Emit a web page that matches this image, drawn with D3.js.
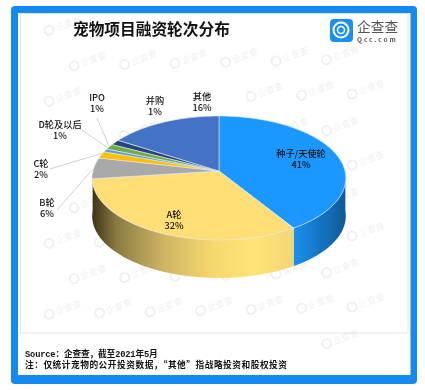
<!DOCTYPE html>
<html>
<head>
<meta charset="utf-8">
<script src="https://cdn.jsdelivr.net/npm/d3@7"></script>
<style>
  html, body { margin: 0; padding: 0; background: #fff; }
  text { font-family: "Noto Sans CJK SC", "Noto Sans", sans-serif; }
</style>
</head>
<body>
<div id="chart"></div>
<script>
// Chart values
const categories = ["种子/天使轮", "A轮", "B轮", "C轮", "D轮及以后", "IPO", "并购", "其他"];
const shares = [41, 32, 5.5, 1.8, 0.8, 1.4, 1.4, 16.1];
const shareLabels = ["41%", "32%", "6%", "2%", "1%", "1%", "1%", "16%"];
const sliceColors = ["#1a98ff", "#ffde75", "#a9a9a9", "#ffc000", "#5b9bd5", "#70ad47", "#264478", "#4472c4"];

const titleText = "宠物项目融资轮次分布";
const sourceLines = ["Source：企查查，截至2021年5月", "注：仅统计宠物的公开投资数据，“其他”指战略投资和股权投资"];

// Label anchors, placed by hand around the pie
const labelAt = [[301, 154], [174, 215], [47, 203], [41, 164], [60, 125], [97, 98], [155, 101], [202, 97]];
const leaderLines = [null, null, [[57, 210], [93, 169]], [[50, 169], [103, 153]], [[82, 130], [108, 148]], [[97, 118], [109, 146]], null, null];

const width = 425, height = 390;
const svg = d3.select("#chart").append("svg")
    .attr("width", width)
    .attr("height", height)
    .style("display", "block");

// Blue frame and white card
svg.append("rect").attr("x", 11).attr("y", 6).attr("width", 406).attr("height", 378).attr("rx", 4).attr("fill", "#148af0");
svg.append("rect").attr("x", 18).attr("y", 13).attr("width", 392.5).attr("height", 362).attr("fill", "#fff");
svg.append("rect").attr("x", 20.5).attr("y", 13.5).attr("width", 387.5).attr("height", 319.5).attr("fill", "none").attr("stroke", "#e4e6e8");

// Watermark, left out where it would run into a label or the card edge
const defs = svg.append("defs");
const marks = svg.append("g").attr("opacity", 0.11);
const labelBoxes = labelAt.map(d => [d[0] - 30, d[1] - 14, d[0] + 30, d[1] + 24]);
d3.range(0, 10).forEach(row => {
  d3.range(-1, 9).forEach(col => {
    const mx = col * 50.5 + (row % 2 ? 33 : 8), my = row * 35.5 + 28 - col * 1.2;
    if (mx < 38 || mx > 385 || my < 24 || my > 365) return;
    if (labelBoxes.some(b => mx > b[0] && mx < b[2] && my > b[1] && my < b[3])) return;
    if (my < 44 && mx > 60 && mx < 240) return;
    if (my < 50 && mx > 310) return;
    if (my > 340 && mx < 300) return;
    const g = marks.append("g").attr("transform", `translate(${mx},${my}) rotate(-20)`);
    g.append("circle").attr("r", 4.5).attr("cx", -10).attr("fill", "none").attr("stroke", "#777").attr("stroke-width", 2);
    g.append("text").attr("x", -3).attr("y", 3.5).attr("font-size", 9).attr("fill", "#777").text("企查查");
  });
});

// Title
svg.append("text").attr("x", 73).attr("y", 34.5).attr("font-size", 15.7).attr("font-weight", 700).attr("fill", "#111").text(titleText);

// Logo
const logo = svg.append("g");
logo.append("rect").attr("x", 330).attr("y", 19).attr("width", 23).attr("height", 23).attr("rx", 4).attr("fill", "#1a90f5");
logo.append("circle").attr("cx", 341).attr("cy", 30).attr("r", 7.5).attr("fill", "none").attr("stroke", "#fff").attr("stroke-width", 2);
logo.append("circle").attr("cx", 341).attr("cy", 30).attr("r", 3.5).attr("fill", "none").attr("stroke", "#fff").attr("stroke-width", 1.5);
logo.append("text").attr("x", 357).attr("y", 32).attr("font-size", 13.7).attr("fill", "#555").text("企查查");
logo.append("text").attr("x", 357).attr("y", 42).attr("font-size", 6.5).attr("font-weight", 700).attr("letter-spacing", 1.9).attr("fill", "#555").text("Qcc.com");

// Pie angles, clockwise from 12 o'clock
const arcs = d3.pie().sort(null).value(d => d)(shares);

// Tilted disc: unit circle point to screen, with perspective
const cx = 219, cy = 171, rX = 126, rY = 61.2, k = -0.113, depth = 38;
function project(a, r) {
  const u = r * Math.sin(a), v = -r * Math.cos(a), w = 1 + k * v;
  return [cx + rX * u / w, cy + rY * v / w];
}
const line = d3.line();
function rimPoints(a0, a1) {
  return d3.range(0, 61).map(i => project(a0 + (a1 - a0) * i / 60, 1));
}

// Side wall, only the part facing the viewer
const seedGrad = defs.append("linearGradient").attr("id", "sideSeed").attr("gradientUnits", "userSpaceOnUse")
    .attr("x1", 294).attr("x2", 346).attr("y1", 0).attr("y2", 0);
seedGrad.append("stop").attr("offset", 0).attr("stop-color", "#1a90f0");
seedGrad.append("stop").attr("offset", 1).attr("stop-color", "#0f5a96");
const aGrad = defs.append("linearGradient").attr("id", "sideA").attr("gradientUnits", "userSpaceOnUse")
    .attr("x1", 92).attr("x2", 294).attr("y1", 0).attr("y2", 0);
[[0, "#3b3216"], [0.12, "#8a7a43"], [0.35, "#cdb463"], [0.6, "#f7d76f"], [0.8, "#ffe478"], [1, "#f3d674"]].forEach(s => {
  aGrad.append("stop").attr("offset", s[0]).attr("stop-color", s[1]);
});
const sideFill = ["url(#sideSeed)", "url(#sideA)"];
[0, 1].forEach(i => {
  const a0 = i === 0 ? Math.PI / 2 + 0.03 : arcs[1].startAngle;
  const a1 = i === 0 ? arcs[0].endAngle : Math.PI * 1.5 - 0.03;
  const top = rimPoints(a0, a1);
  const bottom = top.slice().reverse().map(p => [p[0], p[1] + depth]);
  svg.append("path").attr("d", line(top.concat(bottom)) + "Z").attr("fill", sideFill[i]);
});

// Top face
svg.selectAll(".slice")
  .data(arcs)
  .enter()
  .append("path")
  .attr("class", "slice")
  .attr("d", d => line([[cx, cy]].concat(rimPoints(d.startAngle, d.endAngle))) + "Z")
  .attr("fill", (d, i) => sliceColors[i])
  .attr("stroke", "#dfe9f5")
  .attr("stroke-width", 0.6)
  .attr("stroke-linejoin", "round");

// Leader lines
svg.selectAll(".leader")
  .data(leaderLines.filter(d => d))
  .enter()
  .append("path")
  .attr("class", "leader")
  .attr("d", d => line(d))
  .attr("fill", "none")
  .attr("stroke", "#c4c4c4")
  .attr("stroke-width", 0.8);

// Labels
categories.forEach((c, i) => {
  const t = svg.append("text")
      .attr("x", labelAt[i][0])
      .attr("y", labelAt[i][1])
      .attr("text-anchor", "middle")
      .attr("font-size", 9.2)
      .attr("font-weight", 500)
      .attr("fill", "#111");
  t.append("tspan").attr("x", labelAt[i][0]).attr("dy", 3.4).text(c);
  t.append("tspan").attr("x", labelAt[i][0]).attr("dy", 11).text(shareLabels[i]);
});

// Source notes
svg.selectAll(".note")
  .data(sourceLines)
  .enter()
  .append("text")
  .attr("class", "note")
  .attr("x", 25)
  .attr("y", (d, i) => 356.5 + i * 11)
  .attr("font-size", 8.7)
  .attr("font-weight", 700)
  .attr("fill", "#111")
  .attr("letter-spacing", (d, i) => i === 0 ? -0.15 : null)
  .attr("textLength", (d, i) => i === 1 ? 262 : null)
  .style("font-family", (d, i) => i === 0 ? '"Liberation Mono", "Noto Sans CJK SC", monospace' : null)
  .text(d => d);
</script>
</body>
</html>
